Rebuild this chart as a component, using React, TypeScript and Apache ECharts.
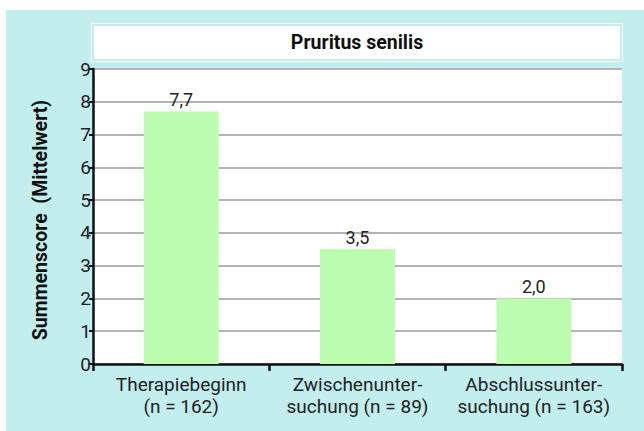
import React, { useEffect, useRef } from "react";
import * as echarts from "echarts";

const categories = ["Therapiebeginn\n(n = 162)", "Zwischenunter-\nsuchung (n = 89)", "Abschlussunter-\nsuchung (n = 163)"];
const values = [7.7, 3.5, 2.0];
const valueLabels = ["7,7", "3,5", "2,0"];
const title = "Pruritus senilis";
const yTitle = "Summenscore  (Mittelwert)";

const FONT = "Roboto, 'Noto Sans', sans-serif";

export default function App() {
  const ref = useRef<HTMLDivElement>(null);
  useEffect(() => {
    const chart = echarts.init(ref.current!, null, { renderer: "svg" });
    chart.setOption({
      animation: false,
      textStyle: { fontFamily: FONT },
      graphic: [
        { type: "rect", z: -10, shape: { x: 6, y: 10, width: 638, height: 421 }, style: { fill: "#c2eeee" } },
        { type: "rect", z: -9, shape: { x: 91.5, y: 23.5, width: 531, height: 38 }, style: { fill: "none", stroke: "#ffffff", lineWidth: 1 } },
        { type: "rect", z: -9, shape: { x: 94, y: 26, width: 526, height: 33 }, style: { fill: "#ffffff" } },
        {
          type: "text", x: 357, y: 42,
          style: { text: title, fontFamily: FONT, fontWeight: "bold", fontSize: 19.5, fill: "#111", align: "center", verticalAlign: "middle" },
        },
        {
          type: "text", x: 40, y: 220, rotation: Math.PI / 2,
          style: { text: yTitle, fontFamily: FONT, fontWeight: "bold", fontSize: 19.5, fill: "#111", align: "center", verticalAlign: "middle" },
        },
      ],
      grid: {
        left: 93, right: 22, top: 69, bottom: 67,
        show: true, backgroundColor: "#ffffff", borderWidth: 0,
      },
      xAxis: {
        type: "category",
        data: categories,
        axisLine: { lineStyle: { color: "#111", width: 2.5 } },
        axisTick: { show: true, length: 7, lineStyle: { color: "#111", width: 2.5 } },
        axisLabel: { interval: 0, color: "#222", fontSize: 19, lineHeight: 22, margin: 9, fontFamily: FONT },
      },
      yAxis: {
        type: "value",
        min: 0, max: 9, interval: 1,
        axisLine: { show: true, lineStyle: { color: "#111", width: 2.5 } },
        axisTick: { show: true, length: 4, lineStyle: { color: "#111", width: 2 } },
        axisLabel: { color: "#222", fontSize: 19, margin: 2, fontFamily: FONT },
        splitLine: { lineStyle: { color: "#b4b4b4", width: 2 } },
      },
      series: [
        {
          type: "bar",
          data: values,
          barWidth: "42.5%",
          itemStyle: { color: "#bcfdb0" },
          label: {
            show: true, position: "top", distance: 3,
            color: "#222", fontSize: 18, fontFamily: FONT,
            formatter: (p: any) => valueLabels[p.dataIndex],
          },
        },
      ],
    });
    return () => chart.dispose();
  }, []);
  return <div ref={ref} style={{ width: 644, height: 431, position: "absolute", left: 0, top: 0 }} />;
}
